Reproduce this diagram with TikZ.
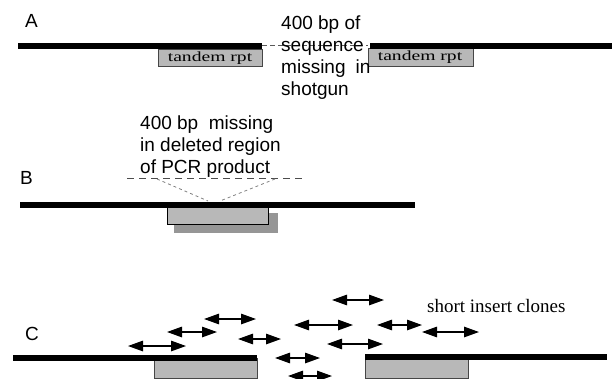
\documentclass[tikz,border=0pt]{standalone}
\usepackage{fontspec}
\setmainfont{Liberation Sans}
\newfontfamily\serifrm{Liberation Serif}
\usetikzlibrary{arrows.meta}
\definecolor{rptgray}{RGB}{184,184,184}
\definecolor{rptback}{RGB}{150,150,150}
\definecolor{rptedge}{RGB}{70,70,70}
\begin{document}
\begin{tikzpicture}[x=1pt,y=-1pt,
  dnaline/.style={line width=6pt,black},
  rptbox/.style={draw=rptedge,line width=0.9pt,fill=rptgray},
  backbox/.style={fill=rptback},
  rptlabel/.style={inner sep=0pt,font=\serifrm\fontsize{14}{14}\selectfont},
  panellabel/.style={inner sep=0pt,anchor=base west,font=\fontsize{19}{22}\selectfont},
  note/.style={inner sep=0pt,anchor=north west,align=left,font=\fontsize{19}{22}\selectfont},
  gapline/.style={gray!70!black,line width=0.8pt,dash pattern=on 5pt off 3pt},
  cutline/.style={black!70,line width=1pt,dash pattern=on 7pt off 5pt},
  diagline/.style={gray,line width=0.8pt,dash pattern=on 3pt off 3pt},
  clone/.style={{Triangle[length=15pt,width=10.5pt]}-{Triangle[length=15pt,width=10.5pt]},line width=1.3pt,black}]
\useasboundingbox (0,0) rectangle (612,379);
% ---------- Panel A ----------
\node[panellabel] (labA) at (25,28) {A};
\draw[gapline] (262,45) -- (368,45);
\draw[rptbox] (158,49) rectangle (262,66);
\node[rptlabel] (rptA1) at (210,58) {\scalebox{1.4}[1]{tandem rpt}};
\draw[rptbox] (368,48) rectangle (473,66);
\node[rptlabel] (rptA2) at (420,57.5) {\scalebox{1.4}[1]{tandem rpt}};
\draw[dnaline] (18,46.5) -- (262,46.5);
\draw[dnaline] (370,46) -- (612,46);
\node[note] (gaptxt) at (281,16) {400 bp of\\sequence\\missing\hspace{10pt}in\\shotgun};
% ---------- Panel B ----------
\node[panellabel] (labB) at (20,185) {B};
\node[note] (deltxt) at (140,116) {400 bp\ \ missing\\in deleted region\\of PCR product};
\draw[cutline] (127,179) -- (302,179);
\coordinate (tipL) at (208,201);
\coordinate (tipR) at (220,201);
\draw[diagline] (157,179) -- (tipL);
\draw[diagline] (275,179) -- (tipR);
\fill[backbox] (174,213) rectangle (278,233);
\draw[rptbox,draw=black] (167,206) rectangle (268,224);
\draw[dnaline] (20,205) -- (415,205);
% ---------- Panel C ----------
\node[panellabel] (labC) at (25,340) {C};
\node[inner sep=0pt,anchor=base west,font=\serifrm\fontsize{19}{22}\selectfont] (clonetxt) at (427,312) {short insert clones};
\draw[rptbox] (154,358) rectangle (257,378);
\draw[rptbox] (365,358) rectangle (468,378);
\draw[dnaline] (13,357.5) -- (257,357.5);
\draw[dnaline] (365,357) -- (607,357);
\draw[clone] (128,346) -- (186,346);
\draw[clone] (167,332) -- (217,332);
\draw[clone] (204,319) -- (256,319);
\draw[clone] (238,339) -- (281,339);
\draw[clone] (275,358) -- (320,358);
\draw[clone] (288,376) -- (332,376);
\draw[clone] (294,325) -- (353,325);
\draw[clone] (332,300) -- (384,300);
\draw[clone] (327,344) -- (383,344);
\draw[clone] (377,325) -- (422,325);
\draw[clone] (422,332) -- (479,332);
\end{tikzpicture}
\end{document}
